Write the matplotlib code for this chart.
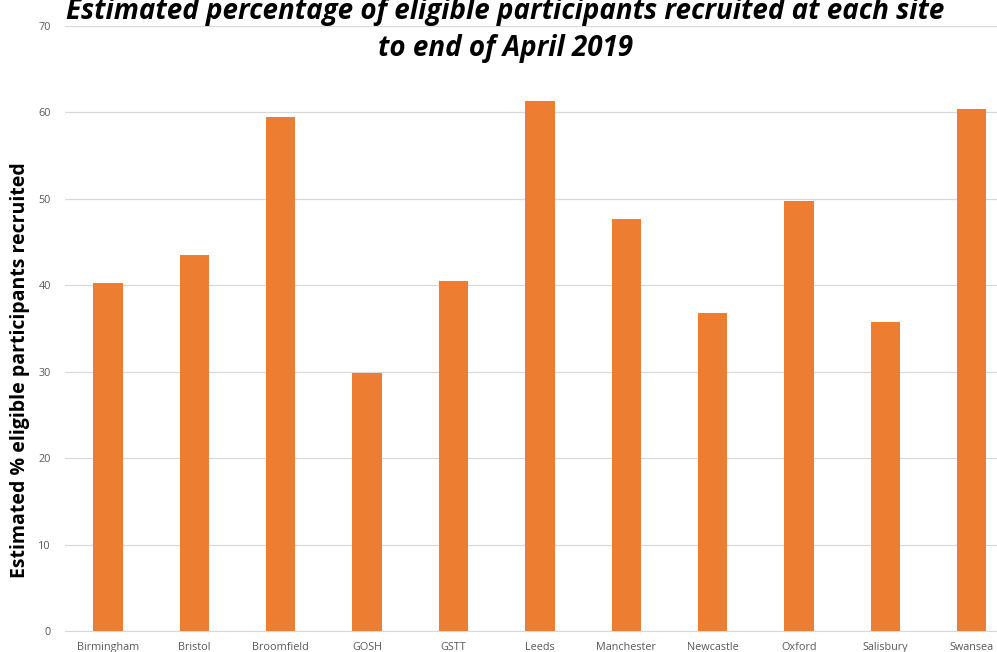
import matplotlib.pyplot as plt
import numpy as np

sites = ["Birmingham", "Bristol", "Broomfield", "GOSH", "GSTT", "Leeds",
         "Manchester", "Newcastle", "Oxford", "Salisbury", "Swansea"]
pct_recruited = [40.3, 43.5, 59.5, 29.9, 40.5, 61.3, 47.7, 36.8, 49.8, 35.8, 60.4]
y_ticks = [0, 10, 20, 30, 40, 50, 60, 70]

BAR = "#ED7D31"
GRID = "#D9D9D9"
TICK = "#595959"

plt.rcParams["font.family"] = ["Open Sans", "DejaVu Sans"]

fig = plt.figure(figsize=(9.97, 6.52), dpi=100)
# axes run off the right edge, as in the original screenshot
ax = fig.add_axes([0.065, 0.0322, 0.953, 0.928])

x = np.arange(len(sites))
ax.bar(x, pct_recruited, width=0.34, color=BAR, zorder=3)

ax.set_xlim(-0.5, len(sites) - 0.5)
ax.set_ylim(0, 70)
ax.set_yticks(y_ticks)
ax.set_xticks(x)
ax.set_xticklabels(sites)
ax.tick_params(axis="both", length=0, labelsize=7.8, labelcolor=TICK)
ax.tick_params(axis="y", pad=10)
ax.tick_params(axis="x", pad=8)
ax.grid(axis="y", color=GRID, linewidth=0.9, zorder=0)
for s in ["top", "right", "left"]:
    ax.spines[s].set_visible(False)
ax.spines["bottom"].set_color(GRID)

fig.text(0.02, 0.433, "Estimated % eligible participants recruited",
         rotation=90, ha="center", va="center", fontsize=14, fontweight="bold")
fig.text(0.507, 0.982, "Estimated percentage of eligible participants recruited at each site",
         ha="center", va="center", fontsize=20, fontweight="bold", style="italic")
fig.text(0.507, 0.925, "to end of April 2019",
         ha="center", va="center", fontsize=20, fontweight="bold", style="italic")

fig.savefig("out.png", dpi=100)
